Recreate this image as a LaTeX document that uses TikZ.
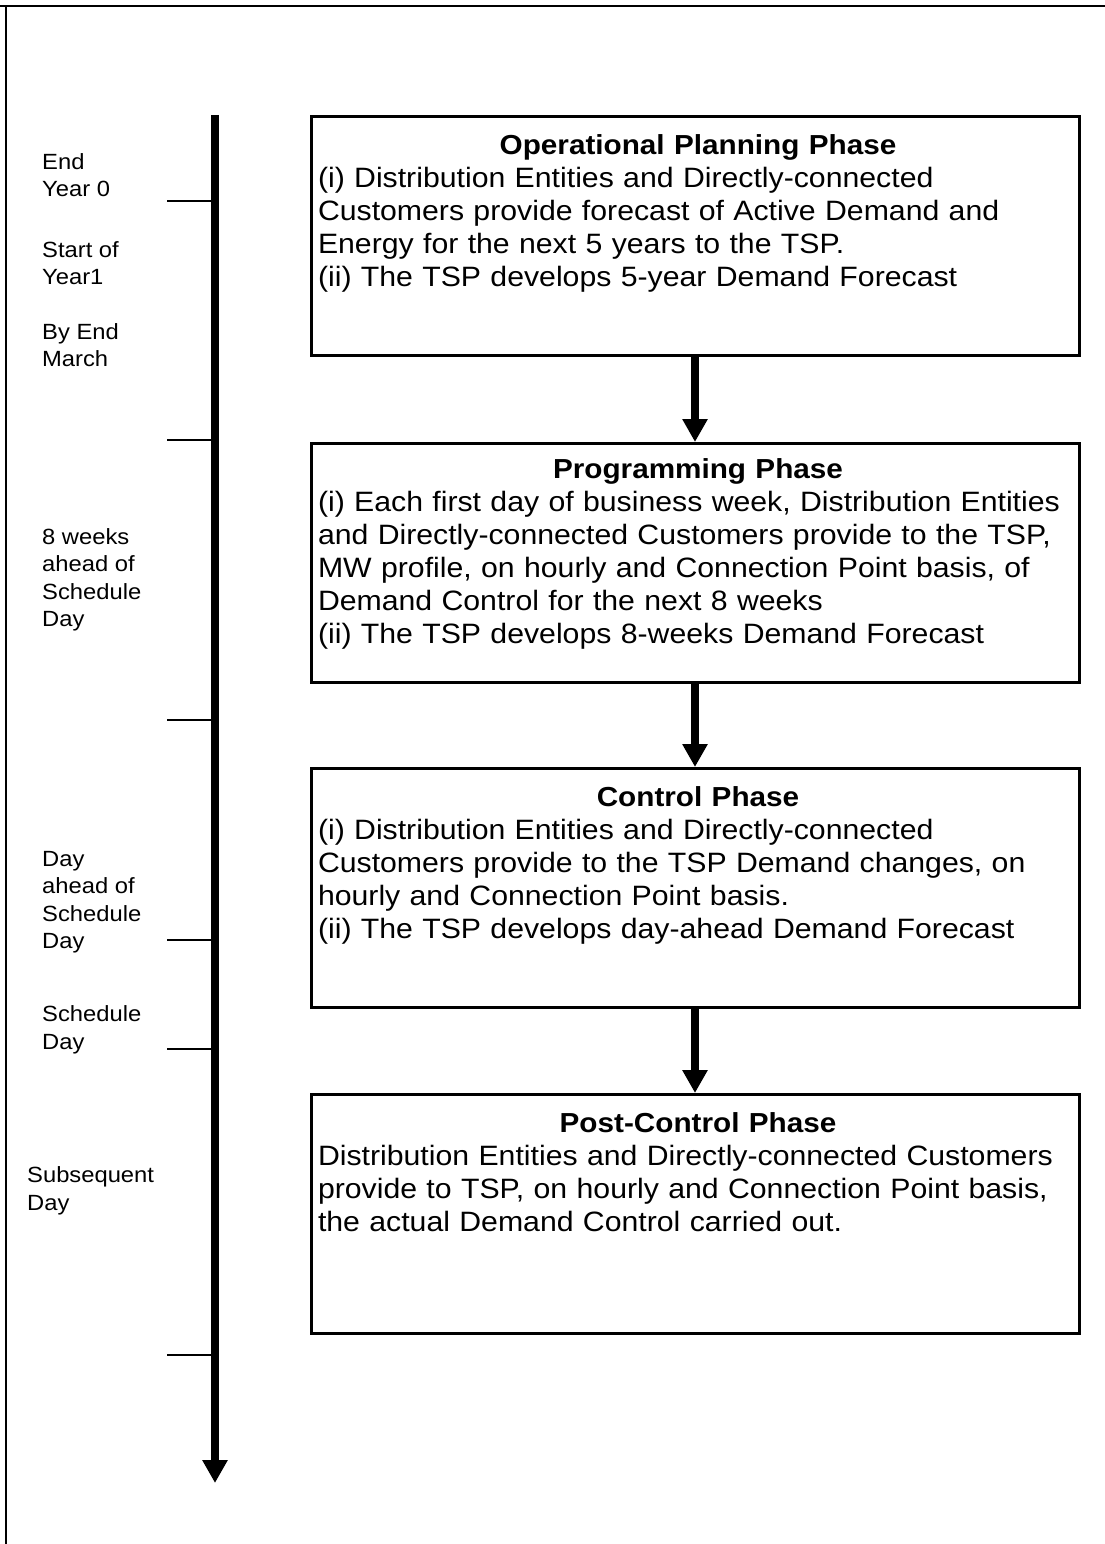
\documentclass[tikz,border=0pt]{standalone}
\usepackage{fontspec}
\setmainfont{Liberation Sans}[FakeStretch=1.08]
\usetikzlibrary{positioning,arrows.meta}

\newcommand{\phasehead}[1]{\centerline{\fontsize{27.5}{33}\selectfont\textbf{#1}}}

\begin{document}
\begin{tikzpicture}[
    x=1pt, y=-1pt,
    every node/.style={inner sep=0pt},
    phasebox/.style={draw, line width=3pt, minimum width=768pt, minimum height=239pt, anchor=north},
    phasetext/.style={text width=760pt, align=left, font=\fontsize{28}{33}\selectfont},
    timelabel/.style={anchor=west, align=left, font=\fontsize{22}{27.5}\selectfont},
    flowarrow/.style={line width=8pt, -{Triangle[width=24pt,length=23pt]}},
    tick/.style={line width=1.6pt}
]
\useasboundingbox (0,0) rectangle (1105,1544);

% frame
\draw[line width=2.6pt] (0,6) -- (1105,6);
\draw[line width=2.6pt] (6,6) -- (6,1544);

% time axis
\coordinate (axtop) at (215,115);
\coordinate (axend) at (215,1483);
\draw[flowarrow] (axtop) -- (axend);
\foreach \ty in {201,440,720,940,1049,1355}
    \draw[tick] (167,\ty) -- (211,\ty);

% time labels
\node[timelabel] (endyear) at (42,175) {End\\Year 0};
\node[timelabel] (startyear) at (42,263) {Start of\\Year1};
\node[timelabel] (endmarch) at (42,345) {By End\\March};
\node[timelabel] (eightweeks) at (42,580) {8 weeks\\ahead of\\Schedule\\Day};
\node[timelabel] (dayahead) at (42,902) {Day\\ahead of\\Schedule\\Day};
\node[timelabel] (schedday) at (42,1030) {Schedule\\Day};
\node[timelabel] (subsday) at (27,1191) {Subsequent\\Day};

% phase boxes
\node[phasebox] (plan) at (695,115) {};
\node[phasebox] (prog) at (695,442) {};
\node[phasebox] (ctrl) at (695,767) {};
\node[phasebox] (post) at (695,1093) {};

\node[phasetext, below=19pt of plan.north, xshift=3pt] (plantext) {%
    \phasehead{Operational Planning Phase}
    (i) Distribution Entities and Directly-connected\\
    Customers provide forecast of Active Demand and\\
    Energy for the next 5 years to the TSP.\\
    (ii) The TSP develops 5-year Demand Forecast};
\node[phasetext, below=16pt of prog.north, xshift=3pt] (progtext) {%
    \phasehead{Programming Phase}
    (i) Each first day of business week, Distribution Entities\\
    and Directly-connected Customers provide to the TSP,\\
    MW profile, on hourly and Connection Point basis, of\\
    Demand Control for the next 8 weeks\\
    (ii) The TSP develops 8-weeks Demand Forecast};
\node[phasetext, below=19pt of ctrl.north, xshift=3pt] (ctrltext) {%
    \phasehead{Control Phase}
    (i) Distribution Entities and Directly-connected\\
    Customers provide to the TSP Demand changes, on\\
    hourly and Connection Point basis.\\
    (ii) The TSP develops day-ahead Demand Forecast};
\node[phasetext, below=19pt of post.north, xshift=3pt] (posttext) {%
    \phasehead{Post-Control Phase}
    Distribution Entities and Directly-connected Customers\\
    provide to TSP, on hourly and Connection Point basis,\\
    the actual Demand Control carried out.};

% flow between phases
\draw[flowarrow] (plan.south) -- (prog.north);
\draw[flowarrow] (prog.south) -- (ctrl.north);
\draw[flowarrow] (ctrl.south) -- (post.north);

\end{tikzpicture}
\end{document}
